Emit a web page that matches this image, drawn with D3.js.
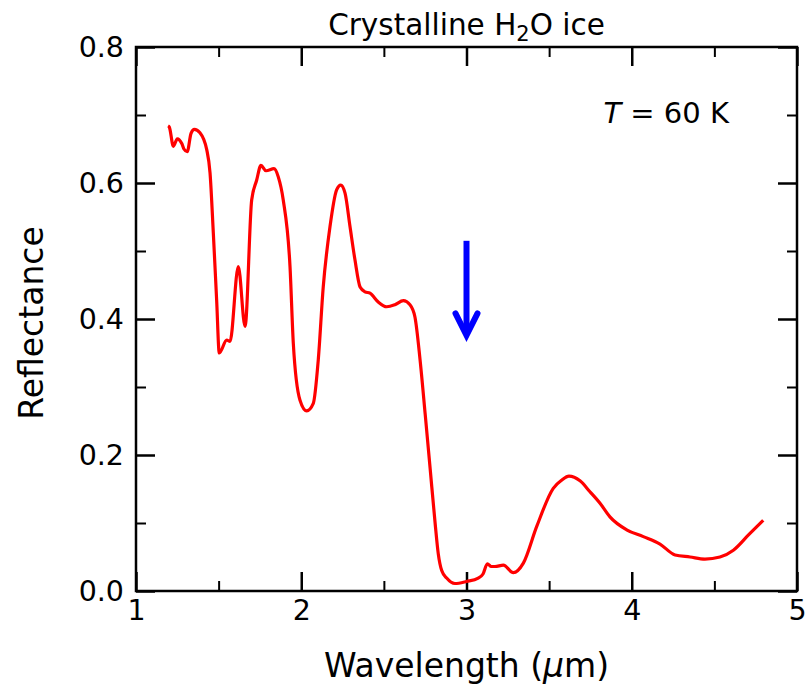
<!DOCTYPE html>
<html>
<head>
<meta charset="utf-8">
<script src="https://cdn.jsdelivr.net/npm/d3@7"></script>
<style>
  body { margin: 0; background: #fff; }
  text { font-family: "DejaVu Sans", sans-serif; fill: #000; }
</style>
</head>
<body>
<script>
// data (wavelength in um, reflectance)
var WAVELENGTH = [
    1.194, 1.202, 1.226, 1.25, 1.277, 1.29, 1.310, 1.333, 1.353, 1.387, 1.428, 1.448,
    1.468, 1.488, 1.504, 1.549, 1.569, 1.619, 1.660, 1.700, 1.730, 1.756, 1.787,
    1.835, 1.861, 1.891, 1.932, 1.952, 1.992, 2.033, 2.073, 2.103, 2.133, 2.174,
    2.214, 2.239, 2.265, 2.295, 2.325, 2.356, 2.386, 2.416, 2.466, 2.517, 2.567,
    2.618, 2.658, 2.688, 2.719, 2.75, 2.78, 2.81, 2.829, 2.85, 2.88, 2.93, 3.0,
    3.071, 3.10, 3.126, 3.15, 3.172, 3.223, 3.283, 3.344, 3.425, 3.525, 3.576,
    3.62, 3.687, 3.747, 3.808, 3.868, 3.969, 4.070, 4.171, 4.262, 4.353, 4.443,
    4.534, 4.615, 4.705, 4.796
];
var REFLECTANCE = [
    0.684, 0.682, 0.654, 0.665, 0.658, 0.650, 0.646, 0.673, 0.679, 0.674, 0.649, 0.615,
    0.526, 0.428, 0.350, 0.369, 0.367, 0.477, 0.389, 0.575, 0.604, 0.626, 0.618,
    0.621, 0.609, 0.575, 0.477, 0.364, 0.281, 0.265, 0.276, 0.340, 0.447, 0.536,
    0.590, 0.597, 0.585, 0.536, 0.487, 0.447, 0.440, 0.438, 0.425, 0.418, 0.421,
    0.427, 0.421, 0.403, 0.340, 0.260, 0.180, 0.100, 0.055, 0.030, 0.019, 0.011, 0.014,
    0.019, 0.025, 0.040, 0.036, 0.036, 0.038, 0.027, 0.041, 0.095, 0.151, 0.163,
    0.169, 0.162, 0.146, 0.129, 0.109, 0.090, 0.080, 0.069, 0.053, 0.050, 0.047,
    0.050, 0.060, 0.082, 0.104
];
var X_TICKS = [1, 2, 3, 4, 5];
var X_MINOR = [1.5, 2.5, 3.5, 4.5];
var Y_TICKS = [0.0, 0.2, 0.4, 0.6, 0.8];
var Y_MINOR = [0.1, 0.3, 0.5, 0.7];
// arrow marking 3 um band: x, from, to
var ARROW = [3.0, 0.515, 0.373];

var MARGINS = {top: 47, bottom: 93, left: 136, right: 9};
var W = 806, H = 684;

var svg = d3.select("body").append("svg");
svg.attr("width", W).attr("height", H);

var xScale = d3.scaleLinear().domain([1, 5]).range([MARGINS.left, W - MARGINS.right]);
var yScale = d3.scaleLinear().domain([0, 0.8]).range([H - MARGINS.bottom, MARGINS.top]);

var x0 = xScale.range()[0], x1 = xScale.range()[1];
var y0 = yScale.range()[0], y1 = yScale.range()[1];

// inward ticks on all four sides
function tickAxes(axisFn, scale, ticks, len, fmt) {
    return axisFn(scale).tickValues(ticks).tickSizeInner(-len).tickSizeOuter(0).tickFormat(fmt);
}

var noLabel = function () { return ""; };

// major + minor, bottom/top/left/right
[[d3.axisBottom, xScale, "translate(0," + y0 + ")", X_TICKS, d3.format("d")],
 [d3.axisTop, xScale, "translate(0," + y1 + ")", X_TICKS, noLabel],
 [d3.axisLeft, yScale, "translate(" + x0 + ",0)", Y_TICKS, d3.format(".1f")],
 [d3.axisRight, yScale, "translate(" + x1 + ",0)", Y_TICKS, noLabel]].forEach(function (a, i) {
    var minor = (i < 2) ? X_MINOR : Y_MINOR;
    var g = svg.append("g").attr("transform", a[2])
        .call(tickAxes(a[0], a[1], a[3], 19, a[4]));
    g.select(".domain").remove();
    g.selectAll(".tick line").attr("stroke", "#000").attr("stroke-width", 2.5);
    g.selectAll(".tick text").style("font-size", "28.5px");
    if (i == 0) g.selectAll(".tick text").attr("y", 9);
    if (i == 2) g.selectAll(".tick text").attr("x", -12);

    var m = svg.append("g").attr("transform", a[2])
        .call(tickAxes(a[0], a[1], minor, 10, noLabel));
    m.select(".domain").remove();
    m.selectAll(".tick line").attr("stroke", "#000").attr("stroke-width", 2);
});

// frame
svg.append("rect")
    .attr("x", x0).attr("y", y1)
    .attr("width", x1 - x0).attr("height", y0 - y1)
    .attr("fill", "none").attr("stroke", "#000").attr("stroke-width", 2.5);

// spectrum
var line = d3.line()
    .x(function (d) { return xScale(d[0]); })
    .y(function (d) { return yScale(d[1]); })
    .curve(d3.curveMonotoneX);

svg.append("path")
    .datum(d3.zip(WAVELENGTH, REFLECTANCE))
    .attr("d", line)
    .attr("fill", "none")
    .attr("stroke", "#ff0000")
    .attr("stroke-width", 3.2)
    .attr("stroke-linejoin", "round");

// arrow
var ax = xScale(ARROW[0]);
svg.append("line")
    .attr("x1", ax).attr("x2", ax)
    .attr("y1", yScale(ARROW[1])).attr("y2", yScale(ARROW[2]) - 4)
    .attr("stroke", "#0000ff").attr("stroke-width", 6);
svg.append("path")
    .attr("d", "M" + (ax - 11) + "," + (yScale(ARROW[2]) - 24) +
        "L" + ax + "," + (yScale(ARROW[2]) - 2) +
        "L" + (ax + 11) + "," + (yScale(ARROW[2]) - 24))
    .attr("fill", "none").attr("stroke", "#0000ff").attr("stroke-width", 6)
    .attr("stroke-linecap", "round").attr("stroke-linejoin", "miter");

// title
var title = svg.append("text")
    .attr("x", (x0 + x1) / 2).attr("y", 35)
    .attr("text-anchor", "middle")
    .style("font-size", "29.5px");
title.append("tspan").text("Crystalline H");
title.append("tspan").attr("dy", 6).style("font-size", "21px").text("2");
title.append("tspan").attr("dy", -6).text("O ice");

// temperature label
var tl = svg.append("text")
    .attr("x", 729).attr("y", 123)
    .attr("text-anchor", "end")
    .style("font-size", "29px");
tl.append("tspan").style("font-style", "italic").text("T");
tl.append("tspan").text(" = 60 K");

// axis labels
var xl = svg.append("text")
    .attr("x", (x0 + x1) / 2).attr("y", 677)
    .attr("text-anchor", "middle")
    .style("font-size", "33px");
xl.append("tspan").text("Wavelength (");
xl.append("tspan").style("font-style", "italic").text("\u03bc");
xl.append("tspan").text("m)");

svg.append("text")
    .attr("transform", "translate(43," + ((y0 + y1) / 2 + 4) + ") rotate(-90)")
    .attr("text-anchor", "middle")
    .style("font-size", "33px")
    .text("Reflectance");
</script>
</body>
</html>
